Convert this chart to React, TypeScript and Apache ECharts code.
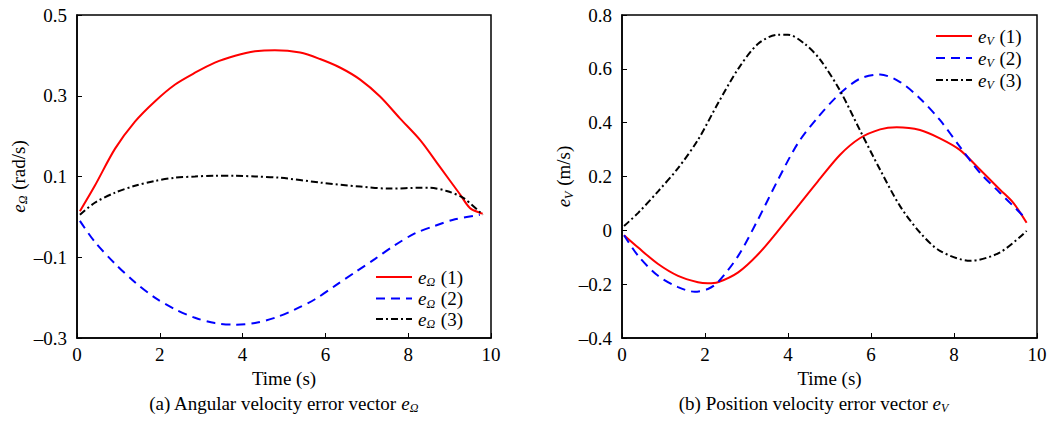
import React, { useEffect, useRef } from "react";
import * as echarts from "echarts";

// ---------- Data (a) Angular velocity error e_Ω ----------
const tA_red = [0.07, 0.43, 0.92, 1.4, 1.88, 2.37, 2.85, 3.33, 3.82, 4.3, 4.78, 5.39, 5.87, 6.35, 6.84, 7.32, 7.8, 8.29, 8.77, 9.25, 9.49, 9.73, 9.8];
const vA_red = [0.014, 0.077, 0.169, 0.236, 0.286, 0.328, 0.357, 0.382, 0.399, 0.41, 0.413, 0.407, 0.391, 0.37, 0.34, 0.298, 0.244, 0.19, 0.123, 0.056, 0.022, 0.01, 0.008];

const tA_blue = [0.07, 0.43, 0.92, 1.4, 1.88, 2.37, 2.85, 3.33, 3.82, 4.3, 4.78, 5.27, 5.75, 6.23, 6.72, 7.2, 7.68, 8.16, 8.65, 9.13, 9.73];
const vA_blue = [-0.01, -0.062, -0.116, -0.162, -0.2, -0.229, -0.25, -0.263, -0.267, -0.263, -0.25, -0.229, -0.204, -0.171, -0.137, -0.104, -0.07, -0.041, -0.022, -0.006, 0.005];

const tA_black = [0.07, 0.43, 0.92, 1.4, 1.88, 2.37, 2.85, 3.33, 3.82, 4.3, 4.9, 5.87, 6.84, 7.56, 8.29, 8.53, 8.93, 9.33, 9.8];
const vA_black = [0.005, 0.035, 0.06, 0.077, 0.089, 0.097, 0.1, 0.102, 0.102, 0.1, 0.097, 0.085, 0.075, 0.07, 0.072, 0.072, 0.064, 0.047, 0.005];

// ---------- Data (b) Position velocity error e_V ----------
const tB_red = [0.05, 0.39, 0.87, 1.35, 1.83, 2.07, 2.31, 2.8, 3.28, 3.76, 4.24, 4.72, 5.25, 5.73, 6.22, 6.62, 7.18, 7.66, 8.14, 8.63, 9.11, 9.43, 9.75];
const vB_red = [-0.018, -0.064, -0.125, -0.169, -0.193, -0.197, -0.193, -0.156, -0.089, -0.002, 0.09, 0.182, 0.28, 0.342, 0.375, 0.383, 0.373, 0.342, 0.299, 0.225, 0.151, 0.102, 0.028];

const tB_blue = [0.05, 0.39, 0.87, 1.35, 1.75, 2.07, 2.31, 2.8, 3.28, 3.76, 4.24, 4.72, 5.25, 5.73, 6.22, 6.7, 7.18, 7.66, 8.14, 8.63, 9.11, 9.75];
const vB_blue = [-0.018, -0.095, -0.169, -0.211, -0.228, -0.218, -0.193, -0.095, 0.041, 0.188, 0.324, 0.42, 0.508, 0.563, 0.579, 0.551, 0.49, 0.41, 0.311, 0.213, 0.139, 0.041];

const tB_black = [0.05, 0.39, 0.87, 1.35, 1.83, 2.31, 2.8, 3.28, 3.76, 4.0, 4.4, 4.77, 5.25, 5.73, 6.22, 6.7, 7.18, 7.66, 8.39, 9.11, 9.75];
const vB_black = [0.016, 0.065, 0.145, 0.231, 0.336, 0.471, 0.6, 0.693, 0.727, 0.727, 0.693, 0.635, 0.52, 0.373, 0.225, 0.09, -0.008, -0.076, -0.113, -0.082, -0.002];

const xTicks = { min: 0, max: 10, interval: 2 };
const yA = { min: -0.3, max: 0.5, interval: 0.2 };
const yB = { min: -0.4, max: 0.8, interval: 0.2 };

const legendLabelsA = ["(1)", "(2)", "(3)"];
const legendLabelsB = ["(1)", "(2)", "(3)"];
const captionA = "(a) Angular velocity error vector ";
const captionB = "(b) Position velocity error vector ";

const FONT = "Liberation Serif";
const RED = "#ff0000";
const BLUE = "#0000ff";
const BLACK = "#000000";
const DASH = [9, 6];
const DASHDOT = [7, 3, 2, 3];

const pairs = (t: number[], v: number[]) => t.map((x, i) => [x, v[i]]);

const fmtNum = (v: number) => {
  const r = Math.round(v * 10) / 10;
  if (Math.abs(r) < 1e-9) return "0";
  const s = String(Math.abs(r));
  return r < 0 ? "\u2013" + s : s;
};

const rich: any = {
  e: { fontFamily: FONT, fontStyle: "italic", fontSize: 19, color: "#000" },
  s: { fontFamily: FONT, fontStyle: "italic", fontSize: 12, color: "#000", padding: [10, 1, 0, 0] },
  n: { fontFamily: FONT, fontSize: 19, color: "#000" },
};

const lineSeries = (name: string, data: number[][], color: string, type: any, idx: number) => ({
  name,
  type: "line",
  xAxisIndex: idx,
  yAxisIndex: idx,
  data,
  smooth: 0.3,
  symbol: "none",
  showSymbol: false,
  lineStyle: { color, width: 2, type },
  itemStyle: { color },
});

const legendGraphic = (x: number, ys: number[], sub: string, labels: string[]) => {
  const styles = [
    { stroke: RED, lineDash: null },
    { stroke: BLUE, lineDash: DASH },
    { stroke: BLACK, lineDash: DASHDOT },
  ];
  const els: any[] = [];
  ys.forEach((y, i) => {
    els.push({
      type: "line",
      shape: { x1: x, y1: y, x2: x + 36, y2: y },
      style: { stroke: styles[i].stroke, lineWidth: 2, lineDash: styles[i].lineDash },
      silent: true,
    });
    els.push({
      type: "text",
      x: x + 42,
      y,
      style: {
        text: `{e|e}{s|${sub}}{n| ${labels[i]}}`,
        rich,
        verticalAlign: "middle",
        textAlign: "left",
      },
      silent: true,
    });
  });
  return els;
};

export default function App() {
  const ref = useRef<HTMLDivElement>(null);
  useEffect(() => {
    if (!ref.current) return;
    const chart = echarts.init(ref.current, null, { renderer: "svg" });

    const xAxisBase = (gridIndex: number) => ({
      type: "value",
      gridIndex,
      ...xTicks,
      name: "Time (s)",
      nameLocation: "middle",
      nameGap: 27,
      nameTextStyle: { fontFamily: FONT, fontSize: 19, color: "#000" },
      axisLine: { show: true, onZero: false, lineStyle: { color: "#000", width: 1.5 } },
      axisTick: { show: true, inside: true, length: 5, lineStyle: { color: "#000" } },
      axisLabel: { fontFamily: FONT, fontSize: 19, color: "#000", margin: 7, formatter: (v: number) => String(v) },
      splitLine: { show: false },
    });

    const yAxisBase = (gridIndex: number, range: any, unit: string, sub: string, gap: number) => ({
      type: "value",
      gridIndex,
      ...range,
      name: `{e|e}{s|${sub}}{n| (${unit})}`,
      nameLocation: "middle",
      nameGap: gap,
      nameRotate: 90,
      nameTextStyle: { rich },
      axisLine: { show: true, onZero: false, lineStyle: { color: "#000", width: 1.5 } },
      axisTick: { show: true, inside: true, length: 5, lineStyle: { color: "#000" } },
      axisLabel: { fontFamily: FONT, fontSize: 19, color: "#000", margin: 10, formatter: fmtNum },
      splitLine: { show: false },
    });

    chart.setOption({
      animation: false,
      backgroundColor: "#ffffff",
      grid: [
        { left: 77, top: 15, width: 414, height: 323, show: true, borderColor: "#000", borderWidth: 1.5, backgroundColor: "transparent" },
        { left: 622, top: 15, width: 415, height: 323, show: true, borderColor: "#000", borderWidth: 1.5, backgroundColor: "transparent" },
      ],
      xAxis: [xAxisBase(0), xAxisBase(1)],
      yAxis: [yAxisBase(0, yA, "rad/s", "\u03A9", 48), yAxisBase(1, yB, "m/s", "V", 46)],
      series: [
        lineSeries("eΩ (1)", pairs(tA_red, vA_red), RED, "solid", 0),
        lineSeries("eΩ (2)", pairs(tA_blue, vA_blue), BLUE, DASH, 0),
        lineSeries("eΩ (3)", pairs(tA_black, vA_black), BLACK, DASHDOT, 0),
        lineSeries("eV (1)", pairs(tB_red, vB_red), RED, "solid", 1),
        lineSeries("eV (2)", pairs(tB_blue, vB_blue), BLUE, DASH, 1),
        lineSeries("eV (3)", pairs(tB_black, vB_black), BLACK, DASHDOT, 1),
      ],
      graphic: [
        ...legendGraphic(376, [277, 298.5, 319], "\u03A9", legendLabelsA),
        ...legendGraphic(936, [36, 58, 80], "V", legendLabelsB),
        {
          type: "text",
          x: 284,
          y: 403,
          style: {
            text: `{n|${captionA}}{e|e}{s|\u03A9}`,
            rich,
            textAlign: "center",
            verticalAlign: "middle",
          },
        },
        {
          type: "text",
          x: 814,
          y: 403,
          style: {
            text: `{n|${captionB}}{e|e}{s|V}`,
            rich,
            textAlign: "center",
            verticalAlign: "middle",
          },
        },
      ],
    });
    return () => chart.dispose();
  }, []);
  return <div ref={ref} style={{ position: "fixed", left: 0, top: 0, width: 1051, height: 422, background: "#fff" }} />;
}
